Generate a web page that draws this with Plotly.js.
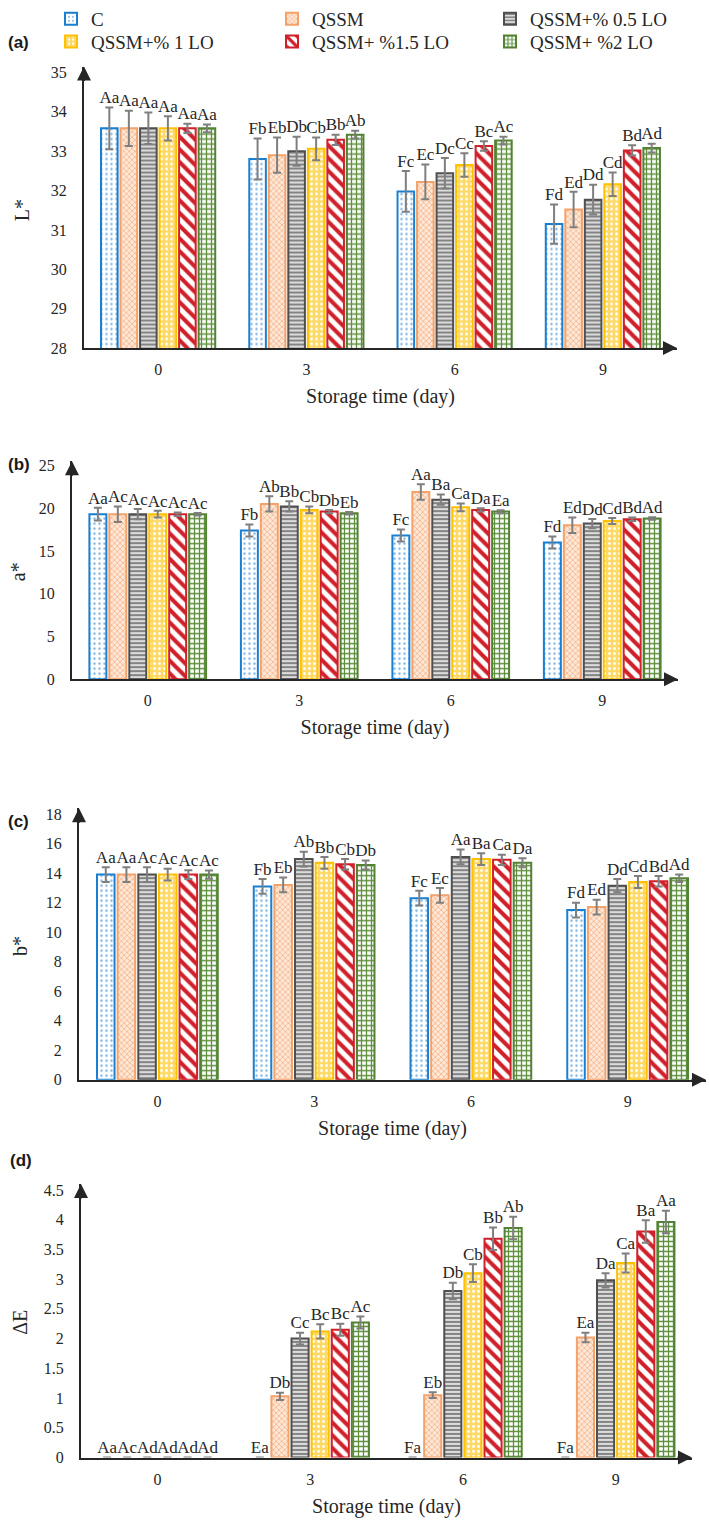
<!DOCTYPE html>
<html><head><meta charset="utf-8">
<script src="https://cdn.plot.ly/plotly-3.0.1.min.js"></script>
<style>html,body{margin:0;padding:0;background:#fff}</style>
</head><body><div id="chart" style="width:709px;height:1527px"></div>
<script>
// ---------- DATA ----------
const days = ['0', '3', '6', '9'];
const seriesNames = ['C', 'QSSM', 'QSSM+% 0.5 LO', 'QSSM+% 1 LO', 'QSSM+ %1.5 LO', 'QSSM+ %2 LO'];

// (a) L*  (rows = series, columns = days)
const L_mean = [
  [33.58, 32.80, 31.98, 31.15],
  [33.58, 32.90, 32.22, 31.52],
  [33.58, 33.00, 32.44, 31.77],
  [33.58, 33.06, 32.65, 32.16],
  [33.58, 33.29, 33.13, 33.02],
  [33.58, 33.42, 33.27, 33.08]
];
const L_sd = [
  [0.53, 0.52, 0.52, 0.50],
  [0.45, 0.45, 0.44, 0.45],
  [0.40, 0.37, 0.39, 0.38],
  [0.31, 0.29, 0.30, 0.30],
  [0.12, 0.13, 0.12, 0.13],
  [0.10, 0.10, 0.10, 0.11]
];
const L_letters = [
  ['Aa', 'Fb', 'Fc', 'Fd'],
  ['Aa', 'Eb', 'Ec', 'Ed'],
  ['Aa', 'Db', 'Dc', 'Dd'],
  ['Aa', 'Cb', 'Cc', 'Cd'],
  ['Aa', 'Bb', 'Bc', 'Bd'],
  ['Aa', 'Ab', 'Ac', 'Ad']
];

// (b) a*
const a_mean = [
  [19.3, 17.4, 16.8, 16.0],
  [19.3, 20.5, 21.9, 18.0],
  [19.3, 20.2, 21.0, 18.2],
  [19.3, 19.8, 20.1, 18.5],
  [19.3, 19.6, 19.8, 18.7],
  [19.3, 19.4, 19.6, 18.8]
];
const a_sd = [
  [0.75, 0.70, 0.70, 0.70],
  [0.90, 0.90, 0.90, 0.90],
  [0.60, 0.60, 0.60, 0.55],
  [0.40, 0.40, 0.45, 0.35],
  [0.20, 0.20, 0.20, 0.20],
  [0.15, 0.15, 0.15, 0.15]
];
const a_letters = [
  ['Aa', 'Fb', 'Fc', 'Fd'],
  ['Ac', 'Ab', 'Aa', 'Ed'],
  ['Ac', 'Bb', 'Ba', 'Dd'],
  ['Ac', 'Cb', 'Ca', 'Cd'],
  ['Ac', 'Db', 'Da', 'Bd'],
  ['Ac', 'Eb', 'Ea', 'Ad']
];

// (c) b*
const b_mean = [
  [13.9, 13.1, 12.3, 11.5],
  [13.9, 13.2, 12.5, 11.7],
  [13.9, 14.95, 15.1, 13.15],
  [13.9, 14.7, 14.95, 13.4],
  [13.9, 14.6, 14.9, 13.45],
  [13.9, 14.55, 14.7, 13.65]
];
const b_sd = [
  [0.50, 0.50, 0.50, 0.50],
  [0.50, 0.50, 0.50, 0.50],
  [0.50, 0.50, 0.50, 0.45],
  [0.40, 0.40, 0.40, 0.40],
  [0.30, 0.35, 0.35, 0.35],
  [0.28, 0.30, 0.30, 0.25]
];
const b_letters = [
  ['Aa', 'Fb', 'Fc', 'Fd'],
  ['Aa', 'Eb', 'Ec', 'Ed'],
  ['Ac', 'Ab', 'Aa', 'Dd'],
  ['Ac', 'Bb', 'Ba', 'Cd'],
  ['Ac', 'Cb', 'Ca', 'Bd'],
  ['Ac', 'Db', 'Da', 'Ad']
];

// (d) ΔE
const dE_mean = [
  [0, 0, 0, 0],
  [0, 1.03, 1.05, 2.02],
  [0, 2.00, 2.80, 2.98],
  [0, 2.12, 3.10, 3.27],
  [0, 2.15, 3.68, 3.80],
  [0, 2.27, 3.86, 3.96]
];
const dE_sd = [
  [null, null, null, null],
  [null, 0.06, 0.05, 0.08],
  [null, 0.10, 0.14, 0.12],
  [null, 0.12, 0.15, 0.16],
  [null, 0.10, 0.19, 0.19],
  [null, 0.10, 0.19, 0.19]
];
const dE_letters = [
  ['Aa', 'Ea', 'Fa', 'Fa'],
  ['Ac', 'Db', 'Eb', 'Ea'],
  ['Ad', 'Cc', 'Db', 'Da'],
  ['Ad', 'Bc', 'Cb', 'Ca'],
  ['Ad', 'Bc', 'Bb', 'Ba'],
  ['Ad', 'Ac', 'Ab', 'Aa']
];

const yTitles = ['L*', 'a*', 'b*', 'ΔE'];
const panelTags = ['(a)', '(b)', '(c)', '(d)'];

// ---------- STYLE ----------
const W = 709, H = 1527;
const AXC = '#262626';
const SERIF = 'Liberation Serif, Times New Roman, serif';
const styles = [
  {line: '#1a7fd0', pattern: {shape: '.', fgcolor: '#7fb6e6', bgcolor: '#ffffff', size: 5, solidity: 0.18}},
  {line: '#f4a26a', pattern: {shape: 'x', fgcolor: '#f5b185', bgcolor: '#fde8d8', size: 4, solidity: 0.35}},
  {line: '#4f4f4f', pattern: {shape: '-', fgcolor: '#7a7a7a', bgcolor: '#dcdcdc', size: 4, solidity: 0.45}},
  {line: '#ffc000', pattern: {shape: '.', fgcolor: '#ffffff', bgcolor: '#ffd966', size: 5, solidity: 0.25}},
  {line: '#d0202a', pattern: {shape: '\\', fgcolor: '#d0202a', bgcolor: '#ffffff', size: 9, solidity: 0.45}},
  {line: '#548235', pattern: {shape: '+', fgcolor: '#5e8f3c', bgcolor: '#ffffff', size: 5, solidity: 0.45}}
];

// panel geometry in pixels
const panels = [
  {x0: 84, x1: 677, yb: 338, yt: 54,  range: [28, 35.15], dtick: 1,   tick0: 28},
  {x0: 72, x1: 678, yb: 672, yt: 452, range: [0, 25.5],   dtick: 5,   tick0: 0},
  {x0: 79, x1: 706, yb: 1076, yt: 802, range: [0, 18.4],  dtick: 2,   tick0: 0},
  {x0: 81, x1: 692, yb: 1457, yt: 1181, range: [0, 4.6],  dtick: 0.5, tick0: 0}
];
const means = [L_mean, a_mean, b_mean, dE_mean];
const sds = [L_sd, a_sd, b_sd, dE_sd];
const letters = [L_letters, a_letters, b_letters, dE_letters];
const tagPos = [[6, 30], [6, 455], [6, 815], [8, 1157]];
const yTitleX = [22, 18, 20, 20];
const legendPos = [[93, 6], [314, 6], [532, 6], [93, 29], [314, 29], [532, 29]];

// ---------- BUILD ----------
const traces = [];
const layout = {
  width: W, height: H,
  margin: {l: 0, r: 0, t: 0, b: 0},
  paper_bgcolor: '#ffffff', plot_bgcolor: '#ffffff',
  barmode: 'group', bargap: 0.21, bargroupgap: 0.15,
  scattermode: 'group', scattergap: 0.21,
  font: {family: SERIF, size: 16, color: AXC},
  showlegend: true,
  annotations: []
};

panels.forEach((p, i) => {
  const sfx = i ? String(i + 1) : '';
  const xa = 'x' + sfx, ya = 'y' + sfx;
  layout['xaxis' + sfx] = {
    domain: [p.x0 / W, p.x1 / W], anchor: ya, type: 'category',
    range: [-0.5, 3.5], showline: true, linecolor: AXC, linewidth: 2,
    ticks: '', showgrid: false, zeroline: false,
    tickfont: {family: SERIF, size: 16, color: AXC}, ticklabelstandoff: 6,
    title: {text: 'Storage time (day)', font: {family: SERIF, size: 20, color: AXC}, standoff: 12},
    fixedrange: true
  };
  layout['yaxis' + sfx] = {
    domain: [1 - p.yb / H, 1 - p.yt / H], anchor: xa,
    range: p.range, tick0: p.tick0, dtick: p.dtick,
    showline: true, linecolor: AXC, linewidth: 2,
    ticks: '', showgrid: false, zeroline: false,
    tickfont: {family: SERIF, size: 16, color: AXC}, ticklabelstandoff: 12,
    fixedrange: true
  };
  // arrowheads on axes
  layout.annotations.push({
    xref: xa + ' domain', yref: ya + ' domain', x: 0, y: 1, ax: 0, ay: 16,
    text: '', showarrow: true, arrowhead: 2, arrowsize: 1.4, arrowwidth: 2, arrowcolor: AXC
  });
  layout.annotations.push({
    xref: xa + ' domain', yref: ya + ' domain', x: 1, y: 0, ax: -16, ay: 0,
    text: '', showarrow: true, arrowhead: 2, arrowsize: 1.4, arrowwidth: 2, arrowcolor: AXC
  });
  // y axis title
  layout.annotations.push({
    xref: 'paper', yref: 'paper', x: yTitleX[i] / W, y: 1 - ((p.yb + p.yt + (i === 0 ? 6 : 4)) / 2) / H,
    text: yTitles[i], textangle: -90, showarrow: false,
    font: {family: SERIF, size: 20, color: AXC}, xanchor: 'center', yanchor: 'middle'
  });
  // panel tag
  layout.annotations.push({
    xref: 'paper', yref: 'paper', x: tagPos[i][0] / W, y: 1 - tagPos[i][1] / H,
    text: '<b>' + panelTags[i] + '</b>', showarrow: false,
    font: {family: 'Liberation Sans, Arial, sans-serif', size: 17, color: '#1a1a1a'},
    xanchor: 'left', yanchor: 'middle'
  });

  for (let s = 0; s < 6; s++) {
    const m = means[i][s], e = sds[i][s];
    traces.push({
      type: 'bar', name: seriesNames[s], x: days, y: m,
      xaxis: xa, yaxis: ya,
      legend: s ? 'legend' + (s + 1) : 'legend',
      legendgroup: 's' + s, showlegend: i === 0,
      marker: {
        color: styles[s].pattern.bgcolor,
        line: {color: styles[s].line, width: m.map(v => (v === 0 ? 0 : 2))},
        pattern: styles[s].pattern
      },
      error_y: {type: 'data', array: e, visible: true, color: '#7f7f7f', thickness: 2, width: 4},
      hoverinfo: 'skip'
    });
    traces.push({
      type: 'scatter', mode: 'text', x: days,
      y: m.map((v, k) => v + (e[k] || 0)),
      text: letters[i][s], textposition: 'top center',
      textfont: {family: SERIF, size: 17, color: AXC},
      xaxis: xa, yaxis: ya, showlegend: false, cliponaxis: false, hoverinfo: 'skip'
    });
  }
});

legendPos.forEach((lp, s) => {
  const key = s ? 'legend' + (s + 1) : 'legend';
  layout[key] = {
    x: (lp[0] - 42) / W, y: 1 - lp[1] / H, xanchor: 'left', yanchor: 'middle',
    orientation: 'v', bgcolor: 'rgba(0,0,0,0)', borderwidth: 0,
    font: {family: SERIF, size: 19, color: AXC}, itemwidth: 30
  };
});

Plotly.newPlot('chart', traces, layout, {staticPlot: true, displayModeBar: false});
</script>
</body></html>
